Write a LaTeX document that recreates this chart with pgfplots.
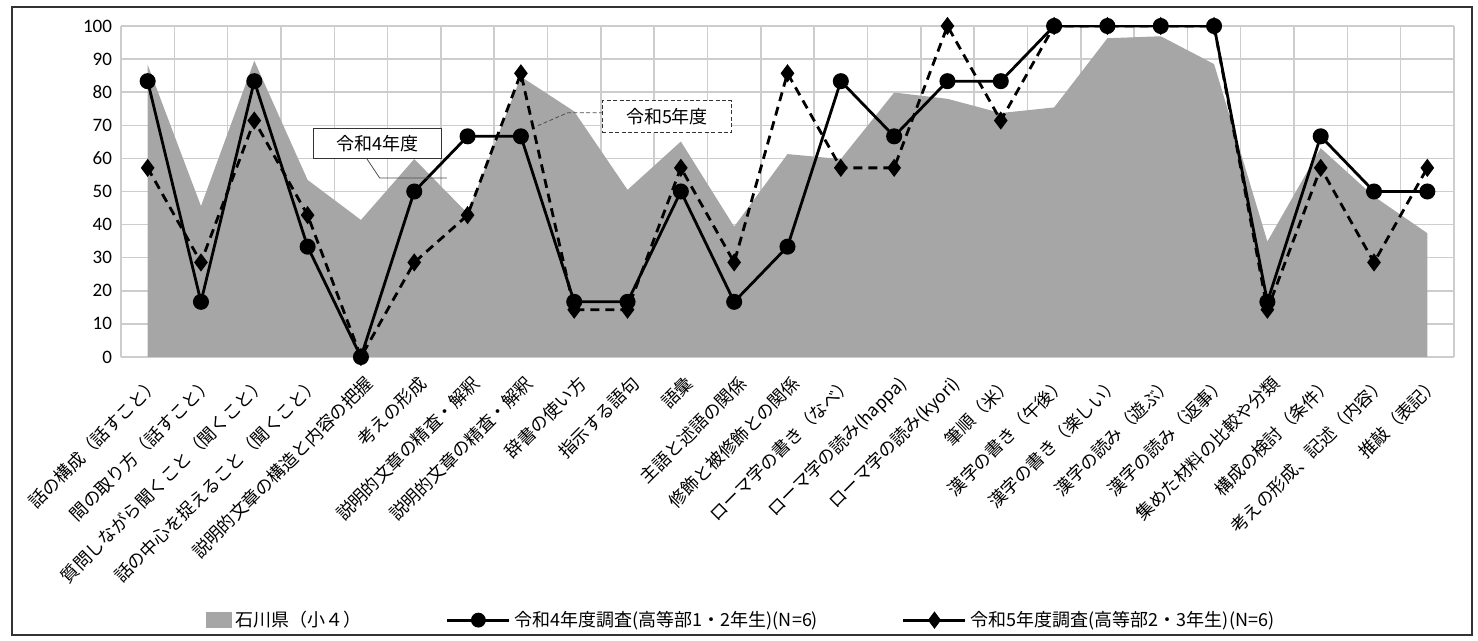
\documentclass[border=0pt]{standalone}
\usepackage{fontspec}
\setmainfont{Noto Sans CJK JP}
\newfontfamily\carlito{Carlito}
\usepackage{pgfplots}
\usepackage{pgfplotstable}
\pgfplotsset{compat=1.18}
\usetikzlibrary{plotmarks}
\definecolor{areagray}{RGB}{166,166,166}
\definecolor{gridgray}{RGB}{205,205,205}
\pgfplotstableread{
x area r4 r5
0 88.3 83.33 57.14
1 45.6 16.67 28.57
2 89.5 83.33 71.43
3 53.5 33.33 42.86
4 41.4 0 0
5 59.8 50 28.57
6 43.4 66.67 42.86
7 84.7 66.67 85.71
8 74.2 16.67 14.29
9 50.5 16.67 14.29
10 65.1 50 57.14
11 39.4 16.67 28.57
12 61.3 33.33 85.71
13 59.8 83.33 57.14
14 79.9 66.67 57.14
15 78.0 83.33 100
16 73.7 83.33 71.43
17 75.4 100 100
18 96.3 100 100
19 96.9 100 100
20 88.5 100 100
21 34.9 16.67 14.29
22 63.1 66.67 57.14
23 48.5 50 28.57
24 37.4 50 57.14
}\data
\begin{document}
\begin{tikzpicture}
\begin{axis}[
  scale only axis,
  width=666.5pt, height=165.5pt,
  xmin=-0.5, xmax=24.5, ymin=0, ymax=100,
  xtick={0,...,24},
  minor xtick={-0.5,0.5,...,24.5},
  ytick={0,10,...,100},
  grid=both,
  major grid style={draw=gridgray, line width=0.75pt},
  minor grid style={draw=gridgray, line width=0.75pt},
  axis line style={draw=none},
  tick style={draw=none},
  xmajorgrids=false,
  /pgf/number format/assume math mode=true,
  yticklabel style={font=\carlito\fontsize{9.5}{11}\selectfont, xshift=-1pt},
  xticklabel style={font=\fontsize{8.8}{10}\selectfont, rotate=45, anchor=north east, inner sep=1pt, xshift=-4pt, yshift=-6pt},
  xticklabels={話の構成（話すこと）,間の取り方（話すこと）,質問しながら聞くこと（聞くこと）,話の中心を捉えること（聞くこと）,説明的文章の構造と内容の把握,考えの形成,説明的文章の精査・解釈,説明的文章の精査・解釈,辞書の使い方,指示する語句,語彙,主語と述語の関係,修飾と被修飾との関係,ローマ字の書き（なべ）,ローマ字の読み(happa),ローマ字の読み(kyori),筆順（米）,漢字の書き（午後）,漢字の書き（楽しい）,漢字の読み（遊ぶ）,漢字の読み（返事）,集めた材料の比較や分類,構成の検討（条件）,考えの形成、記述（内容）,推敲（表記）},
  legend style={draw=none, at={(0.466,-0.795)}, anchor=center, legend columns=3,
    font=\fontsize{9}{11}\selectfont,
    /tikz/every even column/.append style={column sep=40pt}},
]
\addplot[fill=areagray, draw=none, forget plot] table[x=x, y=area] {\data} \closedcycle;
\addplot[black, line width=1.4pt, dash pattern=on 4.5pt off 3pt, mark=diamond*, mark size=3.4pt, mark options={solid}, forget plot] table[x=x, y=r5] {\data};
\addplot[black, line width=1.4pt, mark=*, mark size=3.3pt, forget plot] table[x=x, y=r4] {\data};

\addlegendimage{legend image code/.code={\fill[areagray] (0pt,-3.8pt) rectangle (12.5pt,3.8pt);}}
\addlegendentry{石川県（小４）}
\addlegendimage{legend image code/.code={\draw[black, line width=1.4pt, mark=*, mark size=3pt, mark repeat=2, mark phase=2] plot coordinates {(0pt,0pt) (15.5pt,0pt) (31pt,0pt)};}}
\addlegendentry{令和4年度調査(高等部1・2年生)(N=6)}
\addlegendimage{legend image code/.code={\draw[black, line width=1.4pt, mark=diamond*, mark size=3.2pt, mark repeat=2, mark phase=2] plot coordinates {(0pt,0pt) (15.5pt,0pt) (31pt,0pt)};}}
\addlegendentry{令和5年度調査(高等部2・3年生)(N=6)}

\draw[black!70, line width=0.4pt] (axis cs:4.11,59.9) -- (axis cs:4.35,54.1) -- (axis cs:5.61,54.1);
\node[draw=black!80, fill=white, line width=0.5pt, minimum width=64pt, minimum height=15pt, inner sep=0pt, font=\fontsize{9}{11}\selectfont] at (axis cs:4.31,64.4) {令和4年度};
\draw[black!70, line width=0.4pt, dash pattern=on 2pt off 1.2pt] (axis cs:8.54,73.8) -- (axis cs:7.88,73.8) -- (axis cs:7.32,69.9);
\node[draw=black!80, fill=white, line width=0.5pt, dash pattern=on 2pt off 1.2pt, minimum width=64.5pt, minimum height=16pt, inner sep=0pt, font=\fontsize{9}{11}\selectfont] at (axis cs:9.74,72.6) {令和5年度};
\end{axis}
\draw[black!80, line width=0.6pt] (-54.5pt,-139pt) rectangle (675.5pt,175pt);
\pgfresetboundingbox
\path[use as bounding box] (-60.5pt,-142pt) rectangle (678.5pt,178.5pt);
\end{tikzpicture}
\end{document}
